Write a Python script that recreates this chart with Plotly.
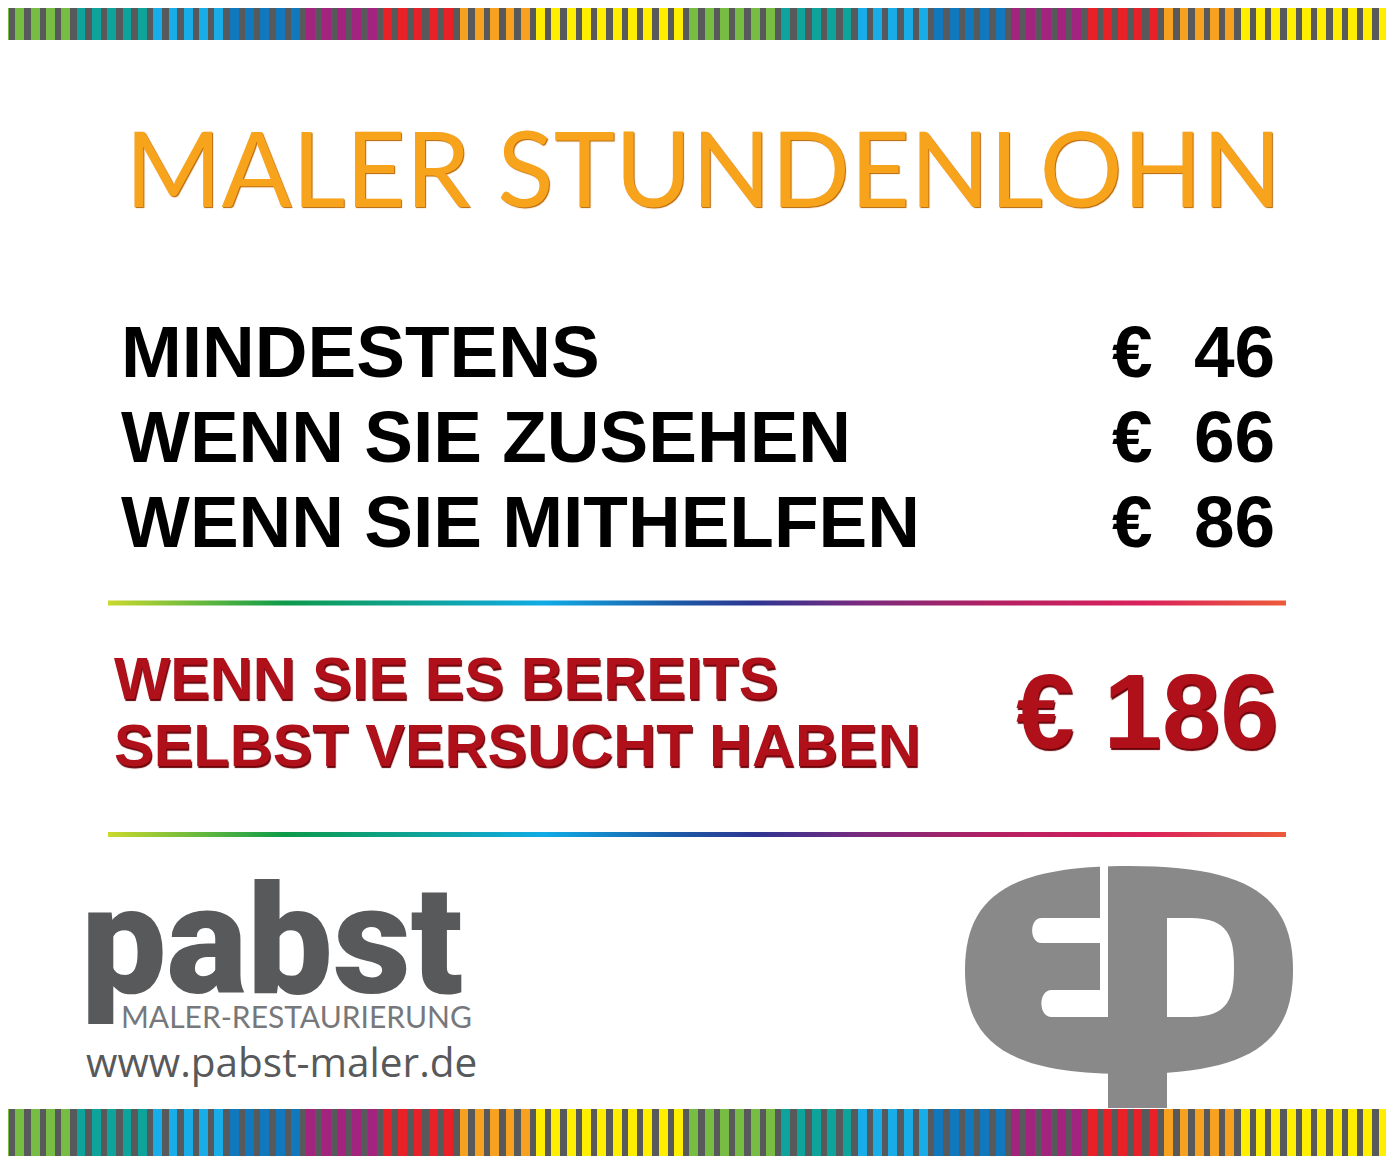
#!/usr/bin/env python3
"""
Poster: Maler Stundenlohn (painter hourly rates) with striped borders,
rainbow divider lines and the two company logos.
"""

import plotly.graph_objects as go

# ======================================================
# Data
# ======================================================
TITLE = "MALER STUNDENLOHN"

rate_labels = ["MINDESTENS", "WENN SIE ZUSEHEN", "WENN SIE MITHELFEN"]
rate_prices = [46, 66, 86]

extra_label = ["WENN SIE ES BEREITS", "SELBST VERSUCHT HABEN"]
extra_price = 186

# colour groups of the striped border bands, left to right
stripe_groups = ["green", "teal", "lightblue", "blue", "purple", "red", "orange", "yellow",
                 "green", "teal", "lightblue", "blue", "purple", "red", "orange", "yellow"]
stripe_counts = [5, 5, 5, 5, 5, 5, 5, 10, 6, 5, 5, 5, 5, 5, 5, 10]

company = "pabst"
company_sub = "MALER-RESTAURIERUNG"
company_web = "www.pabst-maler.de"

# ======================================================
# Styles
# ======================================================
W, H = 1394, 1156
PAGE_PAD = 8   # the page body margin; axes are shifted so data units == page pixels

STRIPE_COLORS = {
    "green": "#77BC43",
    "teal": "#0FA49B",
    "lightblue": "#18ADE8",
    "blue": "#1178BE",
    "purple": "#A2247F",
    "red": "#E82129",
    "orange": "#F6A11F",
    "yellow": "#FFEE00",
}
STRIPE_GRAY = "#58595B"
LOGO_GRAY = "#898989"
PABST_GRAY = "#58595B"
RED = "#B0101A"

RAINBOW = [
    [0.00, "#CAD92E"],
    [0.15, "#0C9A4A"],
    [0.27, "#0FA39C"],
    [0.37, "#10ABE6"],
    [0.48, "#1B5BA7"],
    [0.55, "#2E3591"],
    [0.64, "#7A2A7E"],
    [0.75, "#B22062"],
    [0.88, "#DA215B"],
    [1.00, "#EC5B3A"],
]

fig = go.Figure()

# ======================================================
# Striped border bands (top and bottom)
# ======================================================
n_stripes = sum(stripe_counts)
period = W / n_stripes
colors = []
for g, c in zip(stripe_groups, stripe_counts):
    colors += [STRIPE_COLORS[g]] * c
bar_w = period * 0.58
centers = [i * period + bar_w / 2 for i in range(n_stripes)]

for base, height in [(0, 40), (1109, H - 1109)]:
    fig.add_shape(type="rect", x0=0, x1=W, y0=base, y1=base + height,
                  fillcolor=STRIPE_GRAY, line_width=0, layer="below")
    fig.add_trace(go.Bar(
        x=centers, y=[height] * n_stripes, base=base, width=bar_w,
        marker=dict(color=colors, line_width=0),
        hoverinfo="skip", showlegend=False,
    ))

# ======================================================
# Rainbow divider lines
# ======================================================
for yc in [603, 834.5]:
    x0, x1, y0, y1 = 108, 1286, yc - 2.6, yc + 2.6
    fig.add_trace(go.Scatter(
        x=[x0, x1, x1, x0, x0], y=[y0, y0, y1, y1, y0],
        mode="lines", fill="toself",
        fillgradient=dict(type="horizontal", colorscale=RAINBOW),
        line=dict(width=0, color="rgba(0,0,0,0)"),
        hoverinfo="skip", showlegend=False,
    ))

# ======================================================
# Texts
# ======================================================
ann = []

ann.append(dict(
    x=703, y=166, text=TITLE, xanchor="center", yanchor="middle",
    font=dict(family="Lato, sans-serif", size=104,
              color="#F7A31C", shadow="1px 1px 1px #B86400"),
))

row_y = [351, 436.5, 521]
for lab, price, yy in zip(rate_labels, rate_prices, row_y):
    f = dict(family="Liberation Sans, Arial, sans-serif", size=73, color="#000000", weight="bold")
    ann.append(dict(x=119, y=yy, text=lab, xanchor="left", yanchor="middle", font=f))
    ann.append(dict(x=1110, y=yy, text="€", xanchor="left", yanchor="middle", font=f))
    ann.append(dict(x=1277, y=yy, text=str(price), xanchor="right", yanchor="middle", font=f))

red_font = dict(family="Liberation Sans, Arial, sans-serif", color=RED, weight="bold",
                shadow="1px 2px 1px #6A0008")
for lab, yy in zip(extra_label, [678, 745]):
    ann.append(dict(x=112, y=yy, text=lab, xanchor="left", yanchor="middle",
                    font=dict(red_font, size=59.5)))
ann.append(dict(x=1281, y=711, text=f"€ {extra_price}", xanchor="right", yanchor="middle",
                font=dict(red_font, size=105)))

# company logo text
ann.append(dict(x=79, y=941, text=company, xanchor="left", yanchor="middle",
                font=dict(family="Roboto, sans-serif", size=152, color=PABST_GRAY, weight=900)))
ann.append(dict(x=119, y=1016, text=company_sub, xanchor="left", yanchor="middle",
                font=dict(family="Lato, sans-serif", size=30, color="#77787B")))
ann.append(dict(x=84, y=1061, text=company_web, xanchor="left", yanchor="middle",
                font=dict(family="Open Sans, sans-serif", size=40.5, color=PABST_GRAY)))


# ======================================================
# EP logo (drawn with shapes)
# ======================================================
def squircle(cx, cy, rx, ry, k):
    return (f"M {cx - rx},{cy} C {cx - rx},{cy - k * ry} {cx - k * rx},{cy - ry} {cx},{cy - ry} "
            f"C {cx + k * rx},{cy - ry} {cx + rx},{cy - k * ry} {cx + rx},{cy} "
            f"C {cx + rx},{cy + k * ry} {cx + k * rx},{cy + ry} {cx},{cy + ry} "
            f"C {cx - k * rx},{cy + ry} {cx - rx},{cy + k * ry} {cx - rx},{cy} Z")


def slot(xl, xr, yt, yb):
    r = (yb - yt) / 2
    return (f"M {xr},{yt} L {xl + r},{yt} C {xl},{yt} {xl},{yb} {xl + r},{yb} "
            f"L {xr},{yb} Z")


def d_shape(xl, xr, yt, yb):
    ym = (yt + yb) / 2
    xm = xl + (xr - xl) * 0.35
    return (f"M {xl},{yt} L {xm},{yt} C {xr - 5},{yt} {xr},{ym - 30} {xr},{ym} "
            f"C {xr},{ym + 30} {xr - 5},{yb} {xm},{yb} L {xl},{yb} Z")


logo_shapes = [
    dict(type="path", path=squircle(1129, 970, 164, 104, 0.72), fillcolor=LOGO_GRAY),
    dict(type="rect", x0=1108, x1=1167, y0=960, y1=1108, fillcolor=LOGO_GRAY),
    dict(type="rect", x0=1100, x1=1108, y0=860, y1=1017, fillcolor="white"),
    dict(type="path", path=slot(1029, 1100, 918, 943), fillcolor="white"),
    dict(type="path", path=slot(1038, 1100, 990, 1017), fillcolor="white"),
    dict(type="path", path=d_shape(1167, 1234, 918, 1017), fillcolor="white"),
]
for s in logo_shapes:
    fig.add_shape(line_width=0, **s)

# ======================================================
# Layout
# ======================================================
fig.update_layout(
    width=W - PAGE_PAD, height=H - PAGE_PAD,
    margin=dict(l=0, r=0, t=0, b=0),
    paper_bgcolor="white", plot_bgcolor="white",
    barmode="overlay", bargap=0,
    showlegend=False,
    annotations=[dict(a, xref="x", yref="y", showarrow=False) for a in ann],
    xaxis=dict(range=[PAGE_PAD, W], visible=False, fixedrange=True),
    yaxis=dict(range=[H, PAGE_PAD], visible=False, fixedrange=True),
)

fig.write_html("out.html")
